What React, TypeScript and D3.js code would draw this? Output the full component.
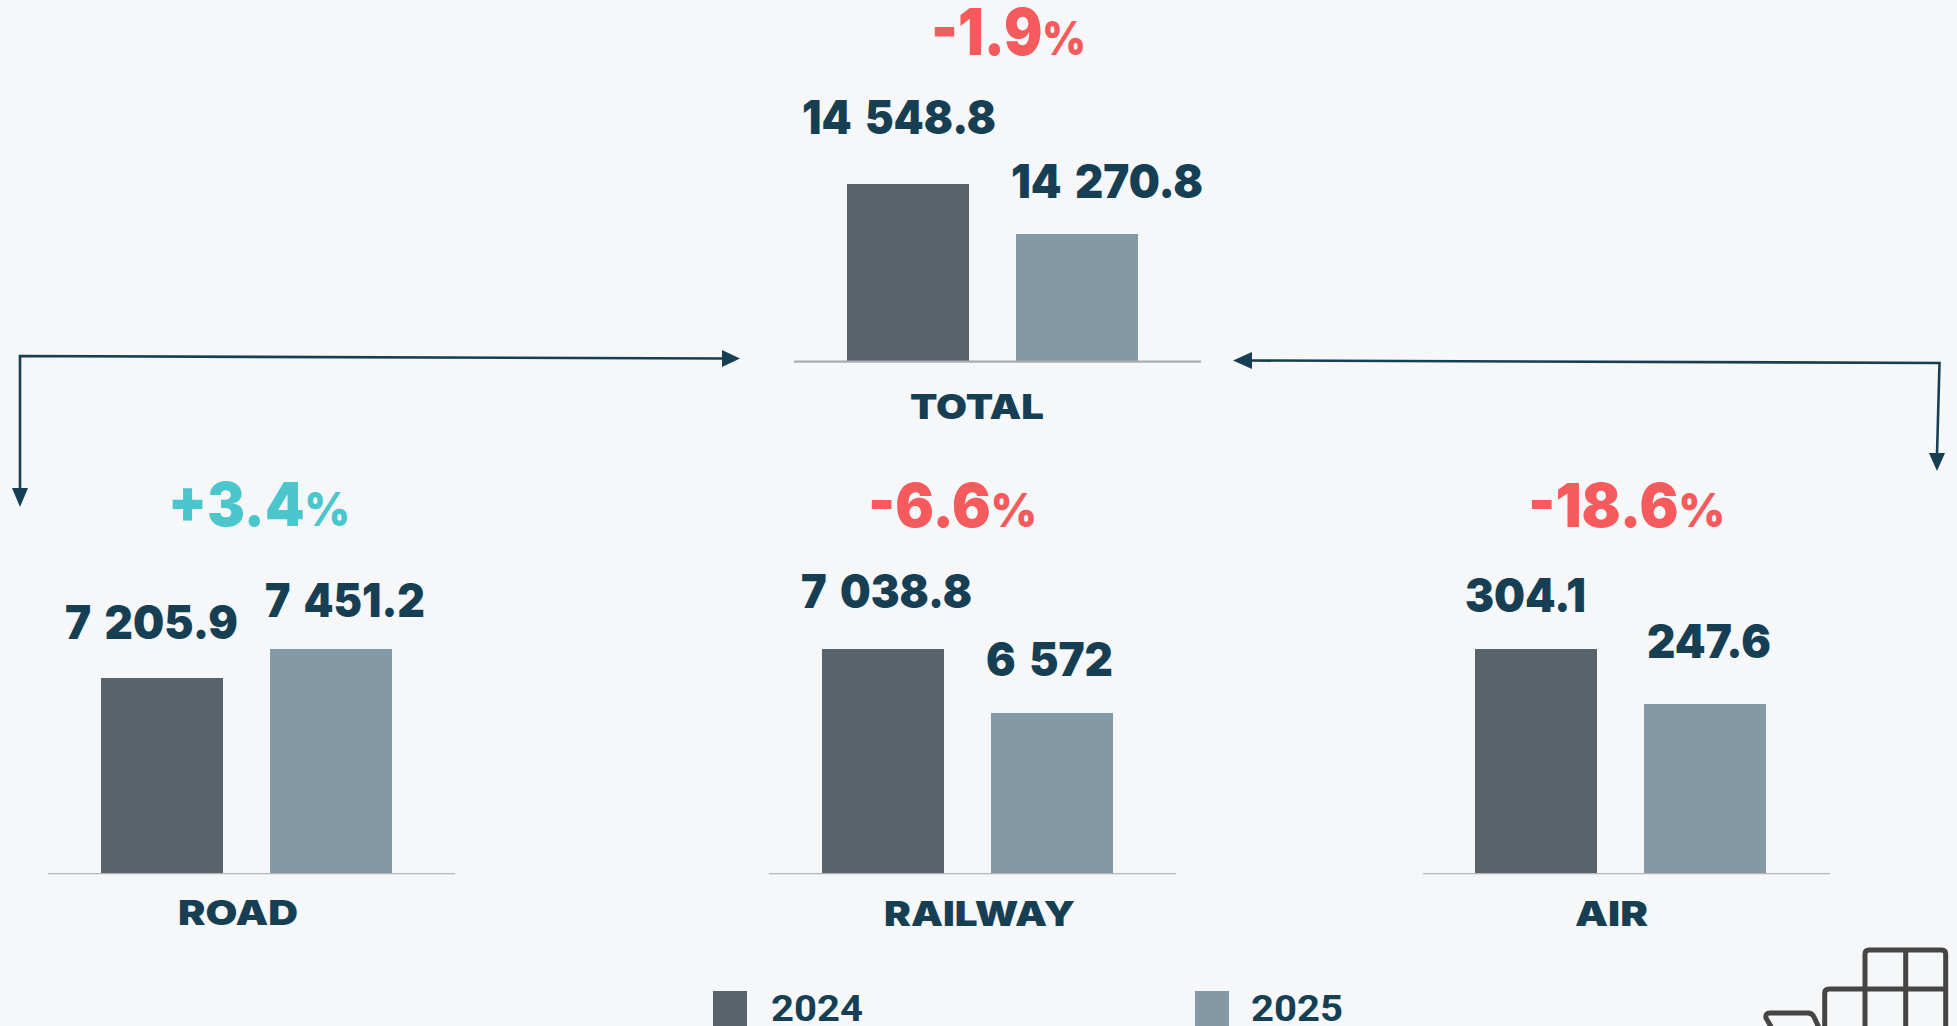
import React from "react";
import * as d3 from "d3";

const years = ["2024", "2025"];
const categories = ["TOTAL", "ROAD", "RAILWAY", "AIR"];
const values2024 = [14548.8, 7205.9, 7038.8, 304.1];
const values2025 = [14270.8, 7451.2, 6572, 247.6];
const changes = ["-1.9", "+3.4", "-6.6", "-18.6"];
// truncated axis floors
const axisFloor = [13565, 5556, 5405, 74];

const W = 1957;
const H = 1026;
const BG = "#f5f7f9";
const DARK = "#58636c";
const LIGHT = "#8499a6";
const INK = "#173f53";
const RED = "#f55a5c";
const TEAL = "#4bc6cd";
const FONT = "Inter, 'Noto Sans', sans-serif";

const panelLayout = [
  { x0: 794, barL: 53, base: 361, tallest: 177, axisW: 2.4, axisC: "#a9acb0", catX: [910, 1044], catY: 419,
    pct: [931, 1086, 55, 64, 47], val: [[802, 996, 134], [1011, 1203, 198]] },
  { x0: 48, barL: 53, base: 873, tallest: 224, axisW: 1.2, axisC: "#b3b5b8", catX: [178, 298], catY: 925,
    pct: [168, 350, 526, 61, 47], val: [[65, 238, 639], [265, 425, 617]] },
  { x0: 769, barL: 53, base: 873, tallest: 224, axisW: 1.2, axisC: "#b3b5b8", catX: [884, 1075], catY: 926,
    pct: [868, 1037, 527, 61, 47], val: [[801, 972, 608], [986, 1113, 676]] },
  { x0: 1423, barL: 52, base: 873, tallest: 224, axisW: 1.2, axisC: "#b3b5b8", catX: [1575, 1648], catY: 926,
    pct: [1528, 1725, 527, 61, 47], val: [[1465, 1586, 612], [1647, 1771, 658]] },
];

const fmt = d3.formatLocale({ decimal: ".", thousands: " ", grouping: [3], currency: ["", ""] }).format(",");

function Fit(props: { x1: number; x2: number; y: number; size: number; fill: string; children: React.ReactNode; weight?: number; family?: string; wordGap?: number; outline?: number }) {
  const { x1, x2, y, size, fill, children, weight = 900, family = FONT, wordGap = 0, outline = 0 } = props;
  return (
    <text x={x1} y={y} fontFamily={family} fontWeight={weight} fontSize={size} fill={fill}
      stroke={outline ? fill : "none"} strokeWidth={outline} wordSpacing={wordGap}
      textLength={x2 - x1} lengthAdjust="spacingAndGlyphs">{children}</text>
  );
}

function Panel({ i }: { i: number }) {
  const L = panelLayout[i];
  const vals = [values2024[i], values2025[i]];
  const x = d3.scaleBand<string>().domain(years).range([L.x0 + L.barL, L.x0 + L.barL + 291]).paddingInner(47 / 169);
  const y = d3.scaleLinear().domain([axisFloor[i], Math.max(...vals)]).range([L.base, L.base - L.tallest]);
  const color = d3.scaleOrdinal<string, string>().domain(years).range([DARK, LIGHT]);
  const chg = changes[i];
  const chgColor = chg.startsWith("+") ? TEAL : RED;
  return (
    <g>
      {years.map((yr, k) => (
        <rect key={yr} x={x(yr)} y={y(vals[k])} width={x.bandwidth()} height={L.base - y(vals[k])} fill={color(yr)} />
      ))}
      <line x1={L.x0} x2={L.x0 + 407} y1={L.base + 0.6} y2={L.base + 0.6} stroke={L.axisC} strokeWidth={L.axisW} />
      {years.map((yr, k) => (
        <Fit key={yr} x1={L.val[k][0]} x2={L.val[k][1]} y={L.val[k][2]} size={46.5} fill={INK} wordGap={5}>{fmt(vals[k])}</Fit>
      ))}
      <Fit x1={L.catX[0]} x2={L.catX[1]} y={L.catY} size={34.5} fill={INK}>{categories[i]}</Fit>
      <Fit x1={L.pct[0]} x2={L.pct[1]} y={L.pct[2]} size={L.pct[3]} fill={chgColor}>
        {chg}<tspan fontSize={L.pct[4]}>%</tspan>
      </Fit>
    </g>
  );
}

const line = d3.line();

export default function App() {
  return (
    <svg width={W} height={H} viewBox={`0 0 ${W} ${H}`} style={{ position: "absolute", left: 0, top: 0, display: "block", background: BG }}>
      <rect width={W} height={H} fill={BG} />
      {categories.map((c, i) => <Panel key={c} i={i} />)}

      {/* connector arrows */}
      <path d={line([[725, 358.5], [20, 356], [20, 490]]) || ""} fill="none" stroke={INK} strokeWidth={2.6} />
      <path d="M722,350 L740,358.5 L722,367 Z" fill={INK} />
      <path d="M12,488 L28,488 L20,507 Z" fill={INK} />
      <path d={line([[1250, 360.5], [1939.5, 363], [1937, 455]]) || ""} fill="none" stroke={INK} strokeWidth={2.6} />
      <path d="M1252,352 L1233,360.5 L1252,369 Z" fill={INK} />
      <path d="M1929,453 L1945,453 L1937,471 Z" fill={INK} />

      {/* legend */}
      {years.map((yr, k) => {
        const sx = [713, 1195][k];
        const tx = [771, 1251][k];
        return (
          <g key={yr}>
            <rect x={sx} y={991} width={34} height={35} fill={k === 0 ? DARK : LIGHT} />
            <Fit x1={tx} x2={tx + 92} y={1021} size={37} weight={700} fill={INK} family="Roboto, sans-serif">{yr}</Fit>
          </g>
        );
      })}

      {/* logo, cut by the page edge */}
      <g fill="none" stroke="#454545" strokeWidth={5} strokeLinejoin="round">
        <path d="M1824.7,1030 V993 Q1824.7,989 1829,989 H1945.7 M1865,1030 V954 Q1865,950 1869,950 H1941.7 Q1945.7,950 1945.7,954 V1030 M1905.7,950 V1030" />
        <path d="M1773,1030 L1766,1018 Q1765,1013 1770,1013 H1808 Q1812,1013 1814,1017 L1820,1030" />
      </g>
    </svg>
  );
}
